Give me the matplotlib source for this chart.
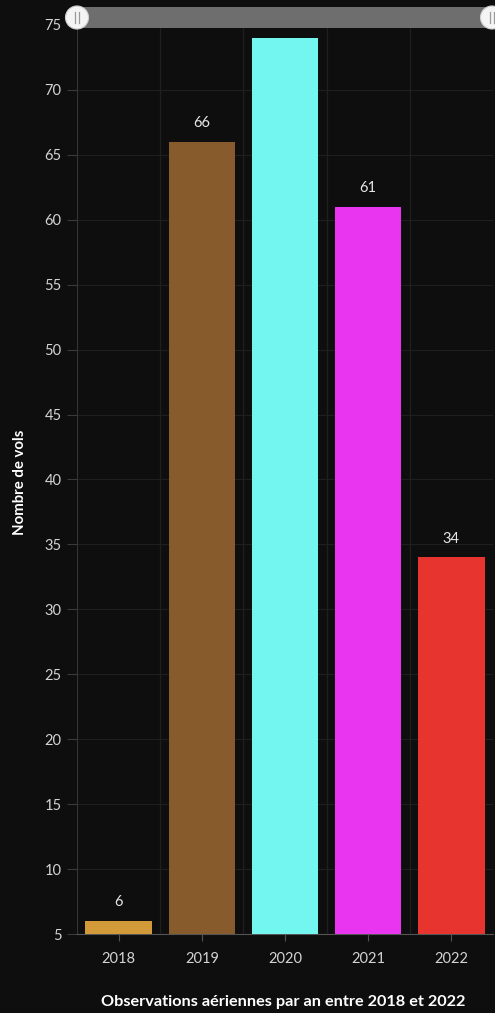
import matplotlib.pyplot as plt
from matplotlib.patches import FancyBboxPatch, Circle

years = ["2018", "2019", "2020", "2021", "2022"]
flights = [6, 66, 74, 61, 34]
colors = ["#d39a3a", "#875b2b", "#74f6f0", "#e935f0", "#e8342e"]
yticks = list(range(5, 80, 5))

bg = "#0f0e0e"
plt.rcParams["font.family"] = ["Lato", "DejaVu Sans"]

W, H = 495, 1013
fig = plt.figure(figsize=(W / 100, H / 100), dpi=100, facecolor=bg)
ax = fig.add_axes([77 / W, 1 - 934 / H, (493 - 77) / W, (934 - 25) / H])
ax.set_facecolor(bg)

x = range(len(years))
bars = ax.bar(x, [v - 5 for v in flights], bottom=5, width=0.8,
              color=colors, zorder=3)
for i, v in enumerate(flights):
    ax.text(i, v + 0.9, str(v), ha="center", va="bottom",
            color="#e6e6e6", fontsize=10.5, zorder=4)

ax.set_xlim(-0.5, len(years) - 0.5)
ax.set_ylim(5, 75)
ax.set_yticks(yticks)
ax.set_xticks(list(x))
ax.set_xticklabels(years)

# faint grid: horizontal at each tick, vertical between categories
for y in yticks:
    ax.axhline(y, color="#201f1f", lw=0.8, zorder=1)
for b in [k + 0.5 for k in range(-1, len(years))]:
    ax.axvline(b, color="#201f1f", lw=0.9, zorder=1)

for side in ["top", "right", "left"]:
    ax.spines[side].set_visible(False)
ax.spines["bottom"].set_color("#555555")
ax.axvline(-0.5, color="#3d3d3d", lw=1.1, zorder=2)

ax.tick_params(axis="y", colors="#3a3a3a", labelcolor="#d4d4d4",
               labelsize=10.5, length=7, pad=4)
ax.tick_params(axis="x", colors="#555555", labelcolor="#d4d4d4",
               labelsize=10.5, length=5, pad=8)

fig.text(20 / W, 1 - 482 / H, "Nombre de vols", rotation=90, ha="center",
         va="center", color="white", fontsize=10.8, fontweight="bold")
fig.text(283 / W, 1 - 1002 / H, "Observations aériennes par an entre 2018 et 2022",
         ha="center", va="center", color="white", fontsize=11.7, fontweight="bold")

# range slider on top of the plot
overlay = fig.add_axes([0, 0, 1, 1], facecolor="none")
overlay.set_xlim(0, W)
overlay.set_ylim(H, 0)
overlay.axis("off")
overlay.add_patch(FancyBboxPatch((77, 7), 415, 21, boxstyle="square,pad=0",
                                 facecolor="#6e6e6e", edgecolor="none"))
for hx in [77, 492]:
    overlay.add_patch(Circle((hx, 17.5), 11.5, facecolor="#f4f4f4",
                             edgecolor="#cfcfcf", lw=0.8))
    for dx in (-1.6, 1.6):
        overlay.plot([hx + dx, hx + dx], [12, 23], color="#9a9a9a", lw=0.9)

fig.savefig("out.png", dpi=100, facecolor=bg)
